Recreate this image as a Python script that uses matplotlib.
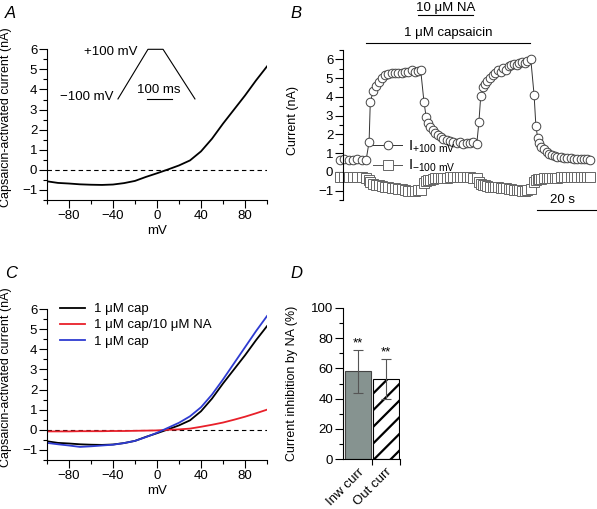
import numpy as np
import matplotlib
matplotlib.use("Agg")
import matplotlib.pyplot as plt

plt.rcParams['font.family'] = ['Liberation Sans', 'DejaVu Sans']
plt.rcParams['mathtext.fontset'] = 'custom'
plt.rcParams['mathtext.rm'] = 'Liberation Sans'
plt.rcParams['mathtext.it'] = 'Liberation Sans:italic'
plt.rcParams['font.size'] = 9.5
plt.rcParams['axes.linewidth'] = 0.8
plt.rcParams['hatch.linewidth'] = 1.6

# --- I-V data (panels A and C) ---
mv = [-100, -90, -80, -70, -60, -50, -40, -30, -20, -10, 0,
      10, 20, 30, 40, 50, 60, 70, 80, 90, 100]
cap1 = [-0.57, -0.65, -0.68, -0.72, -0.74, -0.75, -0.73, -0.66, -0.55, -0.35, -0.17,
        0.02, 0.22, 0.47, 0.92, 1.55, 2.3, 3.0, 3.7, 4.45, 5.15]
cap_na = [-0.08, -0.08, -0.08, -0.07, -0.07, -0.07, -0.06, -0.06, -0.05, -0.04, -0.03,
          0.0, 0.02, 0.06, 0.15, 0.25, 0.36, 0.5, 0.65, 0.82, 1.0]
cap2 = [-0.65, -0.72, -0.78, -0.85, -0.82, -0.78, -0.74, -0.66, -0.55, -0.36, -0.15,
        0.1, 0.35, 0.67, 1.12, 1.75, 2.5, 3.3, 4.1, 4.9, 5.65]

# --- time course (panel B) ---
t_s = [0.0, 1.4, 2.9, 4.3, 5.8, 7.2, 8.7,
       9.7, 10.1, 11.1, 12.0, 12.9, 13.9, 15.0, 16.1, 17.2, 18.3, 19.4, 20.6, 21.7, 22.8, 23.9, 25.0, 26.1, 26.9,
       28.0, 28.7, 29.3, 30.1, 30.9, 31.8, 32.7, 33.6, 34.4, 35.6, 36.7, 37.8, 38.9, 40.0, 41.1, 42.2, 43.3, 44.4, 45.6,
       46.3, 46.9, 47.6, 48.3, 49.1, 50.0, 50.9, 51.8, 52.7, 53.6, 54.4, 55.3, 56.2, 57.1, 58.0, 58.9, 59.8, 60.7, 61.6, 62.4, 63.6,
       64.7, 65.3, 65.9, 66.4, 67.1, 68.0, 68.9, 69.8, 70.7, 71.6, 72.4, 73.6, 74.7, 75.8, 76.9, 78.0, 79.1, 80.2, 81.3, 82.4, 83.3]
i_pos = [0.66, 0.67, 0.66, 0.66, 0.67, 0.66, 0.63,
         1.6, 3.75, 4.3, 4.6, 4.8, 5.0, 5.15, 5.22, 5.25, 5.28, 5.25, 5.27, 5.35, 5.3, 5.42, 5.33, 5.38, 5.42,
         3.72, 2.95, 2.6, 2.4, 2.25, 2.1, 1.95, 1.85, 1.78, 1.7, 1.65, 1.6, 1.55, 1.58, 1.5, 1.55, 1.52, 1.6, 1.5,
         2.65, 4.02, 4.5, 4.7, 4.85, 5.0, 5.15, 5.25, 5.45, 5.3, 5.55, 5.45, 5.62, 5.7, 5.75, 5.72, 5.8, 5.85, 5.82, 5.9, 6.0,
         4.1, 2.45, 1.8, 1.55, 1.35, 1.2, 1.07, 0.97, 0.9, 0.85, 0.8, 0.77, 0.75, 0.73, 0.72, 0.7, 0.7, 0.69, 0.68, 0.67, 0.66]
i_neg = [-0.27, -0.27, -0.28, -0.27, -0.27, -0.28, -0.3,
         -0.45, -0.55, -0.62, -0.68, -0.72, -0.75, -0.78, -0.8, -0.85, -0.88, -0.9, -0.92, -0.97, -1.0, -1.02, -1.0, -0.98, -0.95,
         -0.6, -0.5, -0.45, -0.42, -0.38, -0.35, -0.33, -0.32, -0.3, -0.3, -0.28, -0.28, -0.27, -0.27, -0.27, -0.28, -0.27, -0.3, -0.35,
         -0.55, -0.62, -0.68, -0.72, -0.75, -0.78, -0.8, -0.82, -0.83, -0.85, -0.85, -0.88, -0.9, -0.92, -0.95, -0.97, -0.98, -1.0, -1.0, -0.98, -0.9,
         -0.55, -0.45, -0.4, -0.38, -0.36, -0.34, -0.33, -0.32, -0.31, -0.3, -0.3, -0.29, -0.28, -0.28, -0.27, -0.27, -0.26, -0.26, -0.25, -0.25, -0.25]

# --- inhibition summary (panel D) ---
groups = ["Inw curr", "Out curr"]
inhib = [58, 53]
inhib_err = [14, 13]

W, H = 597, 509
fig = plt.figure(figsize=(W / 100, H / 100), dpi=100)


def px_axes(left, top, right, bottom):
    return fig.add_axes([left / W, 1 - bottom / H, (right - left) / W, (bottom - top) / H])


def iv_style(ax):
    ax.set_xlim(-100, 100)
    ax.set_ylim(-1.5, 6)
    for s in ["top", "right"]:
        ax.spines[s].set_visible(False)
    ax.set_xticks([-80, -40, 0, 40, 80])
    ax.set_xticklabels(["\u221280", "\u221240", "0", "40", "80"])
    ax.set_xticks([-100, -60, -20, 20, 60, 100], minor=True)
    ax.set_yticks([-1, 0, 1, 2, 3, 4, 5, 6])
    ax.set_yticklabels(["\u22121", "0", "1", "2", "3", "4", "5", "6"])
    ax.set_yticks(np.arange(-1.5, 6.01, 0.5), minor=True)
    ax.tick_params(which="major", length=5.5, width=0.8, pad=1.5)
    ax.tick_params(which="minor", length=3, width=0.8)
    ax.set_xlabel("mV", labelpad=2)
    ax.set_ylabel("Capsaicin-activated current (nA)", fontsize=9)
    ax.yaxis.set_label_coords(-0.16, 0.55)
    ax.axhline(0, color="black", lw=0.8, ls=(0, (4, 3)))


# ---------- A ----------
axA = px_axes(47, 49.3, 267, 200)
iv_style(axA)
axA.plot(mv, cap1, color="black", lw=1.3)
axA.plot([-35.5, -8.2, 5.5, 34.5], [3.53, 6.0, 6.0, 3.53], color="black", lw=0.8, clip_on=False)
axA.plot([-9.1, 13.6], [3.53, 3.53], color="black", lw=0.8)
axA.text(-17.3, 5.87, "+100 mV", ha="right", va="center")
axA.text(-40, 3.63, "\u2212100 mV", ha="right", va="center")
axA.text(1.8, 3.97, "100 ms", ha="center", va="center")

# ---------- B ----------
axB = px_axes(343, 50, 597, 200)
axB.set_xlim(1.0, 85.67)
axB.set_ylim(-1.5, 6.5)
for s in ["top", "right", "bottom"]:
    axB.spines[s].set_visible(False)
axB.set_xticks([])
axB.set_yticks([-1, 0, 1, 2, 3, 4, 5, 6])
axB.set_yticklabels(["\u22121", "0", "1", "2", "3", "4", "5", "6"])
axB.set_yticks(np.arange(-1.5, 6.51, 0.5), minor=True)
axB.tick_params(which="major", length=5.5, width=0.8, pad=1.5)
axB.tick_params(which="minor", length=3, width=0.8)
axB.set_ylabel("Current (nA)", fontsize=9)
axB.yaxis.set_label_coords(-0.175, 0.53)
axB.plot(t_s, i_pos, color="#333333", lw=0.7, marker="o", ms=6.2, mfc="white",
         mec="#444444", mew=0.7, clip_on=False, label=r"I$_{+100\ \mathrm{mV}}$")
axB.plot(t_s, i_neg, color="#555555", lw=0.7, marker="s", ms=6.5, mfc="white",
         mec="#666666", mew=0.7, clip_on=False, label=r"I$_{-100\ \mathrm{mV}}$")
axB.plot([65.7, 85.7], [-2.04, -2.04], color="black", lw=0.8, clip_on=False)
axB.text(74.3, -1.5, "20 s", ha="center", va="center")
axB.plot([8.7, 63.3], [6.86, 6.86], color="black", lw=0.8, clip_on=False)
axB.text(36, 7.4, "1 \u03bcM capsaicin", ha="center", va="center")
axB.plot([26, 44.3], [8.36, 8.36], color="black", lw=0.8, clip_on=False)
axB.text(35.3, 8.75, "10 \u03bcM NA", ha="center", va="center")
axB.legend(loc="upper left", bbox_to_anchor=(0.118, 0.41), frameon=False, borderpad=0,
           borderaxespad=0, handlelength=2.0, handletextpad=0.4, labelspacing=0.2,
           prop={"size": 10.5})

# ---------- C ----------
axC = px_axes(47, 309, 267, 460)
iv_style(axC)
axC.plot(mv, cap1, color="black", lw=1.3, label="1 \u03bcM cap")
axC.plot(mv, cap_na, color="#e8202a", lw=1.3, label="1 \u03bcM cap/10 \u03bcM NA")
axC.plot(mv, cap2, color="#2e3bd1", lw=1.3, label="1 \u03bcM cap")
axC.legend(loc="upper left", bbox_to_anchor=(0.059, 1.04), frameon=False, borderpad=0,
           borderaxespad=0, handlelength=1.9, handletextpad=0.7, labelspacing=0.3)

# ---------- D ----------
axD = px_axes(343, 308, 400, 459)
x = np.arange(len(groups))
axD.bar(x[0], inhib[0], width=0.945, color="#869390", edgecolor="#444444", lw=0.8)
axD.bar(x[1], inhib[1], width=0.945, color="white", edgecolor="black", hatch="//", lw=0.8)
axD.errorbar(x, inhib, yerr=inhib_err, fmt="none", ecolor="#555555", elinewidth=0.8,
             capsize=3.6, capthick=0.8)
for xi, v, e in zip(x, inhib, inhib_err):
    axD.text(xi, v + e + 0.5, "**", ha="center", va="bottom")
axD.set_xlim(-0.545, 1.527)
axD.set_ylim(0, 100)
for s in ["top", "right"]:
    axD.spines[s].set_visible(False)
axD.set_xticks(x)
axD.set_xticklabels(groups, rotation=45, ha="right", rotation_mode="anchor")
axD.tick_params(axis="x", length=0, pad=5)
axD.set_xticks([0.5, 1.527], minor=True)
axD.tick_params(axis="x", which="minor", length=4, width=0.8)
axD.set_yticks([0, 20, 40, 60, 80, 100])
axD.set_yticks(np.arange(0, 101, 10), minor=True)
axD.tick_params(axis="y", which="major", length=5.5, width=0.8, pad=1.5)
axD.tick_params(axis="y", which="minor", length=3, width=0.8)
axD.set_ylabel("Current inhibition by NA (%)", fontsize=9)
axD.yaxis.set_label_coords(-0.79, 0.5)

# panel letters
for lab, xp, yp in [("A", 5, 14), ("B", 290, 14), ("C", 5, 274), ("D", 290, 274)]:
    fig.text(xp / W, 1 - yp / H, lab, fontsize=12, style="italic", ha="left", va="center")

fig.savefig("out.png", dpi=100)
